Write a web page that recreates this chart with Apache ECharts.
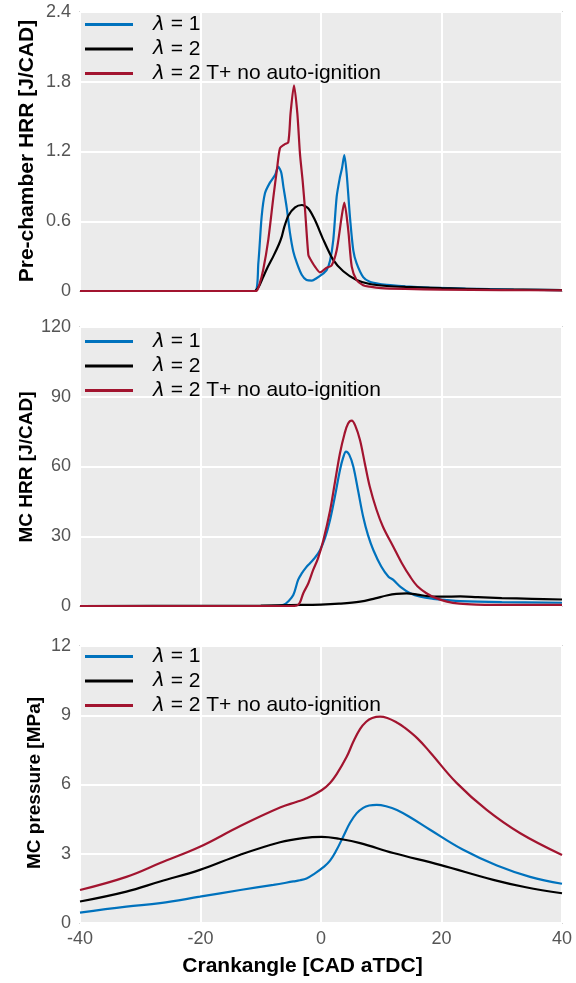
<!DOCTYPE html>
<html>
<head>
<meta charset="utf-8">
<script src="https://cdn.jsdelivr.net/npm/echarts@6/dist/echarts.min.js"></script>
<style>
html,body{margin:0;padding:0;background:#fff;}
#chart{width:576px;height:983px;}
</style>
</head>
<body>
<div id="chart"></div>
<script>
// ---------- Series names ----------
const seriesNames = ['λ = 1', 'λ = 2', 'λ = 2 T+ no auto-ignition'];

// ---------- Panel 1: Pre-chamber HRR [J/CAD] ----------
const pcL1X = [-40, -11.0, -10.4, -9.85, -9.3, -8.5, -7.6, -7.1, -6.6, -6.25, -5.7, -5.15, -4.6, -4.0, -3.2, -2.4, -1.5, -0.75, 0.1, 0.93, 1.5, 2.04, 2.6, 3.15, 3.5, 3.87, 4.26, 4.8, 5.36, 5.9, 7.0, 8.1, 9.8, 11.5, 14.0, 18.0, 24.0, 32.0, 40.0];
const pcL1Y = [0, 0, 0.24, 0.64, 0.84, 0.93, 1.0, 1.07, 1.02, 0.90, 0.72, 0.50, 0.34, 0.24, 0.14, 0.095, 0.09, 0.11, 0.14, 0.18, 0.26, 0.44, 0.81, 0.98, 1.06, 1.17, 1.01, 0.64, 0.35, 0.24, 0.12, 0.08, 0.06, 0.05, 0.04, 0.03, 0.02, 0.012, 0.008];
const pcL2X = [-40, -11.0, -10.3, -9.6, -8.8, -7.9, -7.0, -6.5, -6.1, -5.4, -4.3, -3.2, -2.1, -1.0, 0.4, 2.0, 3.7, 5.9, 8.1, 10.9, 14.0, 20.0, 28.0, 40.0];
const pcL2Y = [0, 0, 0.04, 0.12, 0.21, 0.30, 0.40, 0.47, 0.55, 0.65, 0.72, 0.74, 0.71, 0.61, 0.44, 0.27, 0.17, 0.095, 0.06, 0.043, 0.035, 0.025, 0.015, 0.008];
const pcTpX = [-40, -10.8, -10.2, -9.6, -8.75, -7.9, -7.3, -6.8, -6.1, -5.43, -5.05, -4.48, -3.93, -3.49, -3.05, -2.65, -2.1, -1.83, -1.0, -0.17, 0.93, 1.76, 2.6, 3.43, 3.87, 4.53, 5.1, 5.9, 7.0, 8.1, 10.0, 14.0, 20.0, 30.0, 40.0];
const pcTpY = [0, 0, 0.06, 0.18, 0.44, 0.81, 1.05, 1.23, 1.26, 1.28, 1.53, 1.77, 1.53, 1.18, 0.95, 0.70, 0.31, 0.28, 0.21, 0.16, 0.20, 0.22, 0.35, 0.64, 0.76, 0.52, 0.21, 0.095, 0.05, 0.037, 0.025, 0.018, 0.012, 0.008, 0.005];

// ---------- Panel 2: MC HRR [J/CAD] ----------
const mcL1X = [-40, -10, -7, -6.2, -5.5, -4.6, -3.8, -3.2, -2.5, -1.83, -1.0, -0.17, 0.7, 1.5, 2.3, 3.15, 3.7, 4.15, 4.7, 5.36, 6.2, 7.0, 7.8, 8.7, 10.0, 11.2, 12.0, 13.3, 14.8, 16.5, 18.6, 21.0, 23.1, 30.0, 40.0];
const mcL1Y = [0, 0, 0.1, 0.5, 1.8, 4.7, 11.2, 14.0, 16.5, 18.4, 20.8, 24.0, 29.5, 37, 47, 58.5, 64, 66.4, 65, 60, 49, 38.4, 30.5, 24, 17, 12.6, 11.2, 8.0, 5.5, 4.0, 3.1, 2.5, 2.1, 1.7, 1.4];
const mcL2X = [-40, -20, -10, -5, 0, 3, 6.5, 9, 10.9, 12.5, 14.2, 16.0, 17.5, 19.2, 21.0, 23.1, 26.0, 30.0, 35.0, 40.0];
const mcL2Y = [0, 0.05, 0.2, 0.4, 0.6, 1.0, 1.9, 3.3, 4.5, 5.2, 5.4, 4.9, 4.3, 4.0, 4.05, 4.1, 3.8, 3.4, 3.1, 2.8];
const mcTpX = [-40, -10, -5, -4.0, -3.5, -2.94, -2.1, -1.3, -0.5, 0.4, 1.5, 2.3, 3.15, 3.9, 4.5, 5.1, 5.7, 6.47, 7.3, 8.1, 9.2, 10.3, 12.0, 13.4, 14.8, 16.0, 17.5, 19.0, 20.9, 23.0, 25.8, 30.0, 40.0];
const mcTpY = [0, 0, 0, 0.2, 1.5, 5.5, 9.8, 15.5, 20.5, 28.4, 41, 53, 65.7, 74, 78.5, 79.7, 77.5, 71.4, 61, 51.3, 41.5, 34, 25.5, 18.5, 12.6, 8.5, 5.5, 3.5, 1.9, 1.0, 0.6, 0.5, 0.45];

// ---------- Panel 3: MC pressure [MPa] ----------
const pL1X = [-40, -32.3, -26.7, -20.1, -13.4, -7.9, -4.6, -3.5, -2.4, -1.0, 0.4, 1.5, 2.6, 3.7, 4.8, 5.9, 7.0, 8.0, 9.25, 10.8, 12.6, 15.0, 18.1, 23.6, 29.2, 34.7, 40.0];
const pL1Y = [0.45, 0.71, 0.86, 1.14, 1.43, 1.65, 1.8, 1.85, 1.93, 2.15, 2.42, 2.7, 3.17, 3.75, 4.33, 4.75, 4.99, 5.09, 5.12, 5.06, 4.9, 4.55, 4.04, 3.17, 2.49, 2.0, 1.7];
const pL2X = [-40, -32.3, -26.7, -20.1, -13.4, -6.8, -3, 0.1, 3, 6.5, 12.0, 19.75, 28.6, 34, 40.0];
const pL2Y = [0.93, 1.36, 1.8, 2.3, 2.96, 3.5, 3.68, 3.73, 3.65, 3.46, 3.03, 2.52, 1.87, 1.55, 1.29];
const pTpX = [-40, -32.3, -26.7, -20.1, -13.4, -6.8, -4.0, -2.4, 0.1, 1.5, 2.6, 4.26, 5.36, 6.47, 7.5, 8.5, 9.8, 11.0, 12.5, 13.7, 16.0, 18.1, 22.5, 27.5, 33.0, 40.0];
const pTpY = [1.43, 2.0, 2.6, 3.3, 4.2, 5.0, 5.25, 5.4, 5.75, 6.07, 6.45, 7.2, 7.85, 8.4, 8.72, 8.88, 8.94, 8.88, 8.7, 8.5, 8.0, 7.4, 6.07, 4.9, 3.9, 2.95];

// ---------- Axes ----------
const xTicks = { min: -40, max: 40, interval: 20 };
const yTicks = [
  { min: 0, max: 2.4, interval: 0.6 },
  { min: 0, max: 120, interval: 30 },
  { min: 0, max: 12, interval: 3 }
];
const yNames = ['Pre-chamber HRR [J/CAD]', 'MC HRR [J/CAD]', 'MC pressure [MPa]'];
const xName = 'Crankangle [CAD aTDC]';

const colors = ['#0072BD', '#000000', '#A2142F'];
const panels = [
  [[pcL1X, pcL1Y], [pcL2X, pcL2Y], [pcTpX, pcTpY]],
  [[mcL1X, mcL1Y], [mcL2X, mcL2Y], [mcTpX, mcTpY]],
  [[pL1X, pL1Y], [pL2X, pL2Y], [pTpX, pTpY]]
];
const smoothing = [0.25, 0.35, 0.4];

const gridTops = [12, 327, 646];
const gridHeights = [279, 279, 277];
const legendTops = [14, 331, 646];
const FONT = 'Liberation Sans, Arial, sans-serif';

const grids = gridTops.map((t, i) => ({
  left: 80, width: 482, top: t, height: gridHeights[i],
  show: true, backgroundColor: '#ebebeb', borderColor: '#d4d4d4', borderWidth: 2
}));

const xAxes = [0, 1, 2].map(i => ({
  type: 'value', gridIndex: i, min: xTicks.min, max: xTicks.max, interval: xTicks.interval,
  axisLine: { show: false }, axisTick: { show: false },
  axisLabel: { show: i === 2, color: '#555', fontSize: 18, fontFamily: FONT, margin: 7 },
  splitLine: { show: true, lineStyle: { color: '#ffffff', width: 2 } }
}));

const yAxes = [0, 1, 2].map(i => ({
  type: 'value', gridIndex: i, min: yTicks[i].min, max: yTicks[i].max, interval: yTicks[i].interval,
  axisLine: { show: false }, axisTick: { show: false },
  axisLabel: { color: '#555', fontSize: 18, fontFamily: FONT, margin: 9 },
  splitLine: { show: true, lineStyle: { color: '#ffffff', width: 2 } }
}));

const series = [];
panels.forEach((panel, p) => {
  panel.forEach((xy, s) => {
    series.push({
      type: 'line', name: seriesNames[s], xAxisIndex: p, yAxisIndex: p,
      data: xy[0].map((x, k) => [x, xy[1][k]]),
      symbol: 'none', smooth: smoothing[p],
      lineStyle: { color: colors[s], width: 2.2 }, itemStyle: { color: colors[s] },
      z: 3
    });
  });
});

const legends = legendTops.map(t => ({
  data: seriesNames.map(n => ({ name: n, icon: 'rect' })),
  left: 85, top: t, orient: 'vertical', padding: 0,
  itemWidth: 48, itemHeight: 3, itemGap: 3.5, selectedMode: false,
  formatter: name => '{l|λ}{t|' + name.slice(1) + '}',
  textStyle: {
    color: '#000', fontFamily: FONT, fontSize: 21,
    rich: {
      l: { fontStyle: 'italic', fontFamily: 'DejaVu Sans, sans-serif', fontSize: 20, lineHeight: 22, padding: [0, 0, 0, 15], color: '#000' },
      t: { fontSize: 21, lineHeight: 22, fontFamily: FONT, color: '#000' }
    }
  }
}));

const yNamePos = [[27.5, 151, 21], [27, 467, 19], [34.5, 783, 19]];
const graphic = yNames.map((n, i) => ({
  type: 'text', x: yNamePos[i][0], y: yNamePos[i][1], rotation: Math.PI / 2,
  style: { text: n, fill: '#000', font: 'bold ' + yNamePos[i][2] + 'px ' + FONT, align: 'center', verticalAlign: 'middle' }
}));
graphic.push({
  type: 'text', x: 302.5, y: 966,
  style: { text: xName, fill: '#000', font: 'bold 21px ' + FONT, align: 'center', verticalAlign: 'middle' }
});

const chart = echarts.init(document.getElementById('chart'), null, { renderer: 'canvas' });
chart.setOption({
  animation: false,
  backgroundColor: '#ffffff',
  grid: grids, xAxis: xAxes, yAxis: yAxes, series: series, legend: legends, graphic: graphic
});
</script>
</body>
</html>
